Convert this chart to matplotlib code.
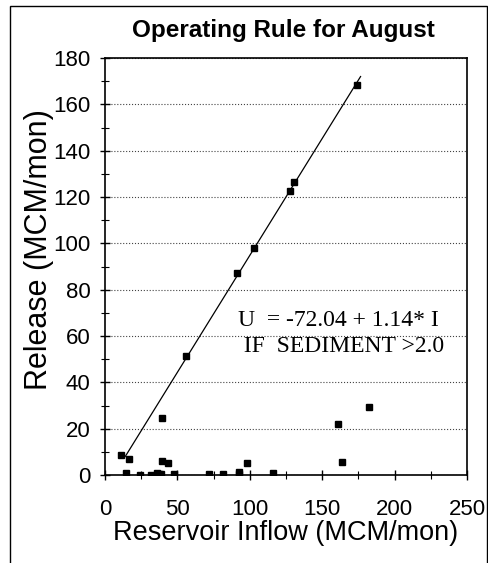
import matplotlib.pyplot as plt
from matplotlib.patches import Rectangle
from matplotlib.ticker import MultipleLocator

plt.rcParams['font.family'] = ['Liberation Sans', 'DejaVu Sans']

# observed inflow / release pairs (MCM/mon)
inflow = [11, 14.3, 16.6, 24.5, 31.7, 36, 37, 39, 39.3, 39.5, 43.4, 47.6,
          56.1, 71.6, 81.3, 91, 92.2, 92.4, 98.2, 102.8, 116, 127.5, 130.5,
          160.6, 163.4, 174, 182]
release = [8.5, 0.8, 7, 0, 0, 1, 0.6, 0.6, 24.5, 6, 5.3, 0.3,
           51.2, 0.3, 0.6, 87.1, 0.3, 1.5, 5, 97.8, 0.9, 122.5, 126.6,
           22.2, 5.6, 168.5, 29.2]

# fitted rule line as drawn
rule_x = [14, 176.5]
rule_y = [8, 172]

W, H = 489, 563
fig = plt.figure(figsize=(W / 100, H / 100), dpi=100)
# plot box: x 105..467 px, y 58..475 px
ax = fig.add_axes([105 / W, 1 - 475 / H, (467 - 105) / W, (475 - 58) / H])

ax.plot(rule_x, rule_y, color='black', lw=0.9)
ax.plot(inflow, release, 's', color='black', markersize=5)

ax.set_xlim(0, 250)
ax.set_ylim(0, 180)
ax.xaxis.set_major_locator(MultipleLocator(50))
ax.xaxis.set_minor_locator(MultipleLocator(25))
ax.yaxis.set_major_locator(MultipleLocator(20))
ax.yaxis.set_minor_locator(MultipleLocator(10))
ax.tick_params(which='major', direction='inout', length=7, width=1, labelsize=16)
ax.tick_params(axis='x', which='major', pad=14)
ax.tick_params(axis='y', which='major', pad=7)
ax.tick_params(which='minor', direction='inout', length=6, width=0.8)
ax.grid(axis='y', which='major', linestyle=':', color='#444444', lw=0.8)
for s in ax.spines.values():
    s.set_linewidth(1.2)

ax.set_xlabel('Reservoir Inflow (MCM/mon)', fontsize=19.5)
ax.xaxis.set_label_coords(0.5, (475 - 520) / 417)
ax.set_ylabel('Release (MCM/mon)', fontsize=22)
ax.yaxis.set_label_coords((54 - 105) / 362, (475 - 250) / 417)

fig.text(283 / W, 1 - 30 / H, 'Operating Rule for August', fontsize=17.5,
         fontweight='bold', ha='center', va='center')

ax.text(161, 61, 'U  = -72.04 + 1.14* I\n  IF  SEDIMENT >2.0', family='Liberation Serif',
        fontsize=17, ha='center', va='center', linespacing=1.35)

# outer frame of the scanned figure
fig.patches.append(Rectangle((10 / W, -0.05), 477 / W, 1.05 - 6 / H,
                             transform=fig.transFigure, fill=False,
                             edgecolor='black', lw=1))

fig.savefig('out.png', dpi=100)
